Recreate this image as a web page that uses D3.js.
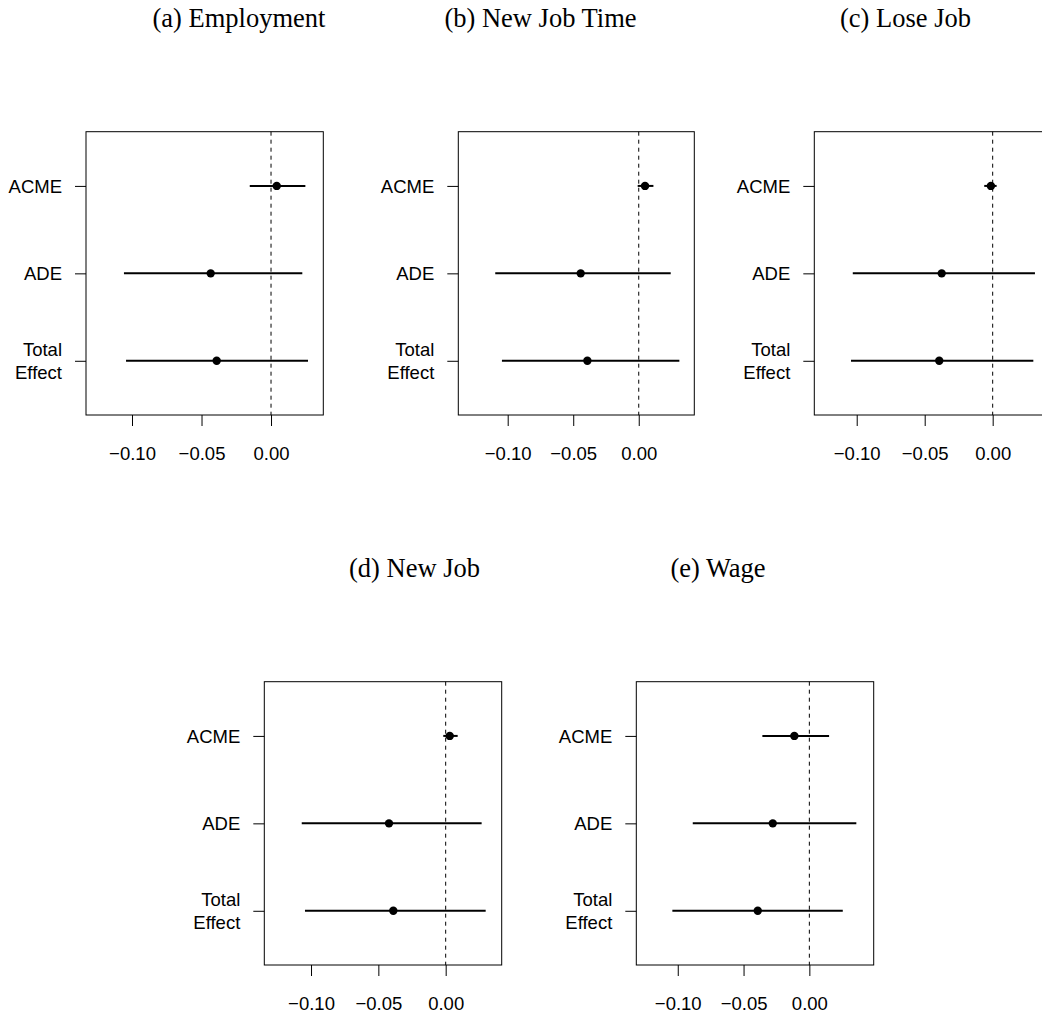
<!DOCTYPE html>
<html>
<head>
<meta charset="utf-8">
<script src="https://cdn.jsdelivr.net/npm/d3@7"></script>
<style>
  html, body { margin: 0; padding: 0; background: #fff; }
  svg { display: block; }
</style>
</head>
<body>
<div id="chart"></div>
<script>
// ---- data ----
const panelTitles = ["(a) Employment", "(b) New Job Time", "(c) Lose Job", "(d) New Job", "(e) Wage"];
const effects = ["ACME", "ADE", "Total Effect"];
const xTickValues = [-0.10, -0.05, 0.00];
const xTickLabels = ["\u22120.10", "\u22120.05", "0.00"];
// point estimates per panel: [ACME, ADE, Total]
const estimates = [
  [0.0041, -0.0434, -0.0391],
  [0.0048, -0.0443, -0.0392],
  [-0.0013, -0.0375, -0.0393],
  [0.0030, -0.0421, -0.0389],
  [-0.0114, -0.0278, -0.0392]
];
const lowerCI = [
  [-0.0153, -0.1058, -0.1043],
  [-0.0008, -0.1095, -0.1044],
  [-0.0062, -0.1029, -0.1042],
  [-0.0018, -0.1069, -0.1045],
  [-0.0357, -0.0886, -0.1041]
];
const upperCI = [
  [0.0247, 0.0225, 0.0266],
  [0.0112, 0.0244, 0.0310],
  [0.0029, 0.0311, 0.0299],
  [0.0089, 0.0267, 0.0297],
  [0.0150, 0.0357, 0.0254]
];
const xLimits = [
  [-0.1331, 0.0376],
  [-0.1377, 0.0424],
  [-0.1312, 0.0429],
  [-0.1347, 0.0416],
  [-0.1315, 0.0489]
];
const yLimits = [0.38, 3.62];

// ---- layout ----
const W = 1042, H = 1014;
const boxes = [
  {x0: 86,    x1: 323.3, y0: 131.7, y1: 415, tx: 239},
  {x0: 458.3, x1: 694.3, y0: 131.7, y1: 415, tx: 540.5},
  {x0: 814.3, x1: 1051,  y0: 131.7, y1: 415, tx: 905.5},
  {x0: 264.3, x1: 501.7, y0: 681.7, y1: 965, tx: 414.5},
  {x0: 636.3, x1: 873.7, y0: 681.7, y1: 965, tx: 718}
];
const titleY = [27, 27, 27, 577, 577];

const svg = d3.select("#chart").append("svg")
  .attr("width", W).attr("height", H)
  .attr("viewBox", `0 0 ${W} ${H}`);

const sansFont = "'Liberation Sans', Arial, Helvetica, sans-serif";
const serifFont = "'Liberation Serif', 'Times New Roman', serif";

boxes.forEach((b, i) => {
  const g = svg.append("g");
  const x = d3.scaleLinear().domain(xLimits[i]).range([b.x0, b.x1]);
  const y = d3.scaleLinear().domain(yLimits).range([b.y0, b.y1]);

  // title
  svg.append("text")
    .attr("x", b.tx).attr("y", titleY[i])
    .attr("text-anchor", "middle")
    .attr("font-family", serifFont)
    .attr("font-size", 26.5)
    .attr("fill", "#000")
    .text(panelTitles[i]);

  // dashed zero line
  g.append("line")
    .attr("x1", x(0)).attr("x2", x(0))
    .attr("y1", b.y0).attr("y2", b.y1)
    .attr("stroke", "#000").attr("stroke-width", 1)
    .attr("stroke-dasharray", "4,4");

  // CIs
  effects.forEach((e, j) => {
    g.append("line")
      .attr("x1", x(lowerCI[i][j])).attr("x2", x(upperCI[i][j]))
      .attr("y1", y(j + 1)).attr("y2", y(j + 1))
      .attr("stroke", "#000").attr("stroke-width", 2);
    g.append("circle")
      .attr("cx", x(estimates[i][j])).attr("cy", y(j + 1))
      .attr("r", 4.2).attr("fill", "#000");
  });

  // box
  g.append("rect")
    .attr("x", b.x0).attr("y", b.y0)
    .attr("width", b.x1 - b.x0).attr("height", b.y1 - b.y0)
    .attr("fill", "none").attr("stroke", "#000").attr("stroke-width", 1);

  // x axis
  const xAxis = d3.axisBottom(x)
    .tickValues(xTickValues)
    .tickFormat((d, k) => xTickLabels[k])
    .tickSize(11).tickPadding(21).tickSizeOuter(0);
  const xa = g.append("g").attr("transform", `translate(0,${b.y1})`).call(xAxis);
  xa.select(".domain").remove();
  xa.selectAll("line").attr("stroke", "#000").attr("stroke-width", 1);
  xa.selectAll("text").attr("font-family", sansFont).attr("font-size", 18.5).attr("fill", "#000");

  // y axis
  const yAxis = d3.axisLeft(y)
    .tickValues([1, 2, 3])
    .tickFormat("")
    .tickSize(11).tickSizeOuter(0);
  const ya = g.append("g").attr("transform", `translate(${b.x0},0)`).call(yAxis);
  ya.select(".domain").remove();
  ya.selectAll("line").attr("stroke", "#000").attr("stroke-width", 1);

  // y labels
  effects.forEach((e, j) => {
    const words = e.split(" ");
    const t = g.append("text")
      .attr("text-anchor", "end")
      .attr("font-family", sansFont)
      .attr("font-size", 18.5)
      .attr("fill", "#000");
    const cy = y(j + 1);
    if (words.length === 1) {
      t.attr("x", b.x0 - 24).attr("y", cy + 6.6).text(e);
    } else {
      words.forEach((w, k) => {
        t.append("tspan")
          .attr("x", b.x0 - 24)
          .attr("y", cy - 11 + k * 22.3 + 6.6)
          .text(w);
      });
    }
  });
});
</script>
</body>
</html>
